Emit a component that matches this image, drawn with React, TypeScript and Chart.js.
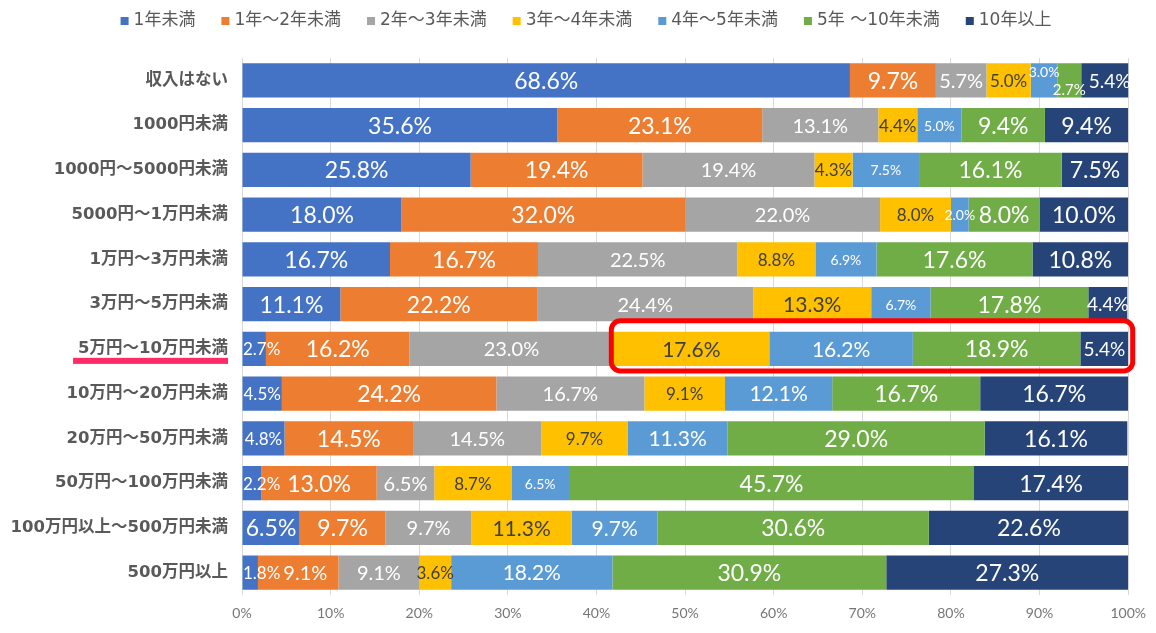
import React, { useEffect, useRef } from 'react';
import { Chart, registerables } from 'chart.js';

Chart.register(...registerables);

const categories = [
  '収入はない',
  '1000円未満',
  '1000円～5000円未満',
  '5000円～1万円未満',
  '1万円～3万円未満',
  '3万円～5万円未満',
  '5万円～10万円未満',
  '10万円～20万円未満',
  '20万円～50万円未満',
  '50万円～100万円未満',
  '100万円以上～500万円未満',
  '500万円以上',
];

const seriesNames = ['1年未満', '1年～2年未満', '2年～3年未満', '3年～4年未満', '4年～5年未満', '5年 ～10年未満', '10年以上'];
const seriesColors = ['#4472C4', '#ED7D31', '#A5A5A5', '#FFC000', '#5B9BD5', '#70AD47', '#264478'];

const under1Year = [68.6, 35.6, 25.8, 18.0, 16.7, 11.1, 2.7, 4.5, 4.8, 2.2, 6.5, 1.8];
const years1to2 = [9.7, 23.1, 19.4, 32.0, 16.7, 22.2, 16.2, 24.2, 14.5, 13.0, 9.7, 9.1];
const years2to3 = [5.7, 13.1, 19.4, 22.0, 22.5, 24.4, 23.0, 16.7, 14.5, 6.5, 9.7, 9.1];
const years3to4 = [5.0, 4.4, 4.3, 8.0, 8.8, 13.3, 17.6, 9.1, 9.7, 8.7, 11.3, 3.6];
const years4to5 = [3.0, 5.0, 7.5, 2.0, 6.9, 6.7, 16.2, 12.1, 11.3, 6.5, 9.7, 18.2];
const years5to10 = [2.7, 9.4, 16.1, 8.0, 17.6, 17.8, 18.9, 16.7, 29.0, 45.7, 30.6, 30.9];
const over10Years = [5.4, 9.4, 7.5, 10.0, 10.8, 4.4, 5.4, 16.7, 16.1, 17.4, 22.6, 27.3];

const seriesValues = [under1Year, years1to2, years2to3, years3to4, years4to5, years5to10, over10Years];

const highlightRow = 6;
const highlightFromSeries = 3;

const CJK_FONT = '"DejaVu Sans", "Noto Sans CJK JP", sans-serif';
const NUM_FONT = 'Lato, "Open Sans", sans-serif';

function labelSize(s: number, v: number): number {
  switch (s) {
    case 0: return v >= 6 ? 23 : 17;
    case 1: return v >= 9.5 ? 23 : 20;
    case 2: return 20;
    case 3: return v >= 11 ? 21 : 17;
    case 4: return v >= 9 ? 21 : 14;
    case 5: return v >= 8 ? 23 : 15;
    default: return v >= 7 ? 23 : 19;
  }
}

const overlayPlugin = {
  id: 'overlay',
  afterDatasetsDraw(chart: any) {
    const ctx = chart.ctx as CanvasRenderingContext2D;
    const area = chart.chartArea;
    ctx.save();
    ctx.textAlign = 'center';
    ctx.textBaseline = 'middle';
    for (let j = 0; j < categories.length; j++) {
      const items: any[] = [];
      chart.data.datasets.forEach((ds: any, i: number) => {
        const el = chart.getDatasetMeta(i).data[j] as any;
        const v = ds.data[j] as number;
        const size = labelSize(i, v);
        ctx.font = `${size}px ${NUM_FONT}`;
        const text = v.toFixed(1) + '%';
        const w = ctx.measureText(text).width;
        let cx = (el.base + el.x) / 2;
        if (cx - w / 2 < area.left + 1) cx = area.left + 1 + w / 2;
        items.push({
          text, cx, w, size, y: el.y, dy: 0,
          segW: Math.abs(el.x - el.base),
          color: i === 3 ? '#3f3f3f' : '#ffffff',
        });
      });
      for (let k = 1; k < items.length; k++) {
        const prev = items[k - 1];
        const cur = items[k];
        const overlap = prev.cx + prev.w / 2 - (cur.cx - cur.w / 2);
        if (overlap > 0) {
          if (prev.w > prev.segW - 2 && cur.w > cur.segW - 2) {
            prev.dy = -9;
            cur.dy = 9;
          } else {
            cur.cx += overlap + 3;
          }
        }
      }
      items.forEach((it) => {
        ctx.font = `${it.size}px ${NUM_FONT}`;
        ctx.fillStyle = it.color;
        ctx.fillText(it.text, it.cx, it.y + it.dy + 1);
      });
    }
    ctx.restore();
  },
  afterDraw(chart: any) {
    const ctx = chart.ctx as CanvasRenderingContext2D;
    const area = chart.chartArea;
    const xScale = chart.scales.x;
    ctx.save();

    // highlight box
    const el = chart.getDatasetMeta(highlightFromSeries).data[highlightRow] as any;
    const startX = el.base - 2;
    const endX = xScale.getPixelForValue(100) + 4.5;
    const top = el.y - el.height / 2 - 11;
    const bottom = el.y + el.height / 2 + 5;
    ctx.strokeStyle = '#ff0000';
    ctx.lineWidth = 5;
    ctx.beginPath();
    (ctx as any).roundRect(startX, top, endX - startX, bottom - top, 9);
    ctx.stroke();

    // underline of highlighted category label
    ctx.font = `bold 16.5px ${CJK_FONT}`;
    const lw = ctx.measureText(categories[highlightRow]).width;
    const right = area.left - 14;
    ctx.fillStyle = '#ff2a68';
    ctx.fillRect(right - lw - 5, el.y + 9, lw + 5, 6);

    // legend
    ctx.font = `17px ${CJK_FONT}`;
    ctx.textAlign = 'left';
    ctx.textBaseline = 'middle';
    const boxW = 8;
    const boxGap = 5;
    const gap = 26;
    const widths = seriesNames.map((n) => boxW + boxGap + ctx.measureText(n).width);
    const total = widths.reduce((a, b) => a + b, 0) + gap * (seriesNames.length - 1);
    let x = 586 - total / 2;
    const ly = 21;
    seriesNames.forEach((n, i) => {
      ctx.fillStyle = seriesColors[i];
      ctx.fillRect(x, ly - 4, boxW, boxW);
      ctx.fillStyle = '#595959';
      ctx.fillText(n, x + boxW + boxGap, ly);
      x += widths[i] + gap;
    });
    ctx.restore();
  },
};

export default function App() {
  const canvasRef = useRef<HTMLCanvasElement | null>(null);

  useEffect(() => {
    document.body.style.margin = '0';
    const canvas = canvasRef.current;
    if (!canvas) return;
    const chart = new Chart(canvas, {
      type: 'bar',
      data: {
        labels: categories,
        datasets: seriesNames.map((name, i) => ({
          label: name,
          data: seriesValues[i],
          backgroundColor: seriesColors[i],
          borderWidth: 0,
          categoryPercentage: 1,
          barPercentage: 0.76,
        })),
      },
      options: {
        indexAxis: 'y',
        responsive: false,
        animation: false,
        devicePixelRatio: 1,
        events: [],
        layout: { padding: { top: 58, right: 25, bottom: 8, left: 0 } },
        plugins: {
          legend: { display: false },
          tooltip: { enabled: false },
          title: { display: false },
        },
        scales: {
          x: {
            stacked: true,
            min: 0,
            max: 100,
            ticks: {
              stepSize: 10,
              padding: 10,
              color: '#767676',
              font: { family: NUM_FONT, size: 14 },
              callback: (v: any) => `${v}%`,
            },
            grid: { color: '#d9d9d9', lineWidth: 1, drawTicks: false },
            border: { display: false },
            afterFit: (scale: any) => { scale.height = 30; },
          },
          y: {
            stacked: true,
            ticks: {
              padding: 14,
              color: '#595959',
              font: { family: CJK_FONT, size: 16.5, weight: 'bold' },
              autoSkip: false,
            },
            grid: { display: false, drawTicks: false },
            border: { display: false },
            afterFit: (scale: any) => { scale.width = 242; },
          },
        },
      },
      plugins: [overlayPlugin],
    } as any);
    return () => chart.destroy();
  }, []);

  return (
    <div style={{ position: 'absolute', left: 0, top: 0, width: 1156, height: 633, background: '#ffffff' }}>
      <canvas ref={canvasRef} width={1156} height={633} />
    </div>
  );
}
